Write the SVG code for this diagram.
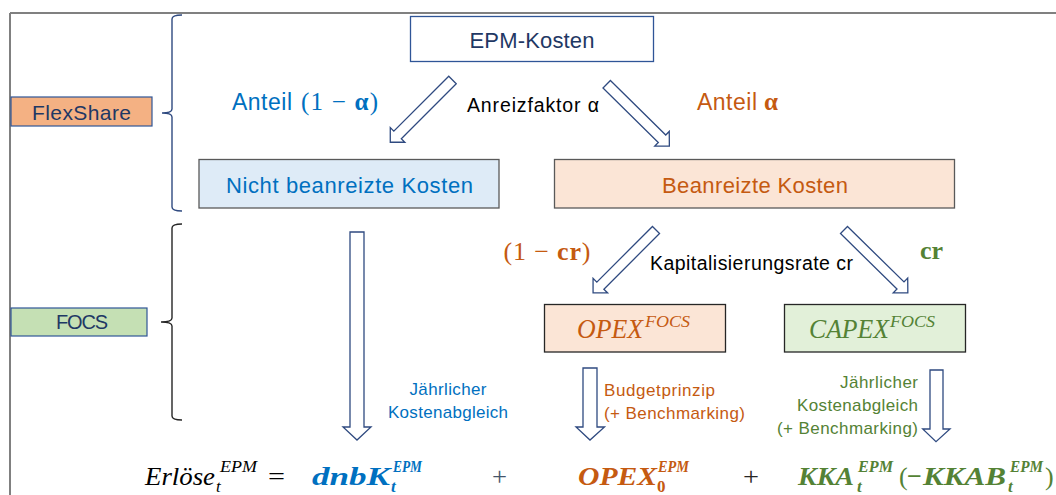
<svg xmlns="http://www.w3.org/2000/svg" width="1056" height="495" viewBox="0 0 1056 495">
<defs>
<style>
.sans{font-family:"Liberation Sans",Arial,sans-serif}
.ser{font-family:"Liberation Serif","DejaVu Serif",serif}
.it{font-style:italic}
.b{font-weight:bold}
.blue{fill:#0070C0}
.orange{fill:#C55A11}
.green{fill:#548235}
.navy{fill:#1F3864}
.arr{fill:#ffffff;stroke:#2F4A80;stroke-width:1.3;stroke-linejoin:miter}
.brace{fill:none;stroke-width:1.4}
</style>
</defs>
<rect width="1056" height="495" fill="#ffffff"/>
<g id="frame" fill="none" stroke="#808080" stroke-width="2">
<line x1="10" y1="13" x2="1056" y2="13"/>
<line x1="10" y1="13" x2="10" y2="495"/>
</g>
<g id="braces">
<path class="brace" stroke="#2F4A80" d="M182,15 Q172,15 172,19 L172,109 Q172,113 162,113 Q172,113 172,117 L172,207 Q172,211 182,211"/>
<path class="brace" stroke="#262626" d="M182,224 Q172,224 172,228 L172,318 Q172,322 161,322 Q172,322 172,326 L172,416 Q172,420 182,420"/>
</g>
<g id="flexshare">
<rect x="11" y="97" width="141" height="29" fill="#F4B183" stroke="#2F5597" stroke-width="1.2"/>
<text class="sans navy" x="81.5" y="120" font-size="21" text-anchor="middle" textLength="99">FlexShare</text>
</g>
<g id="focs">
<rect x="11" y="308" width="136" height="28" fill="#C5E0B4" stroke="#2F5597" stroke-width="1.2"/>
<text class="sans navy" x="82" y="329" font-size="20" text-anchor="middle" textLength="52">FOCS</text>
</g>
<g id="epm-kosten">
<rect x="410.5" y="16.5" width="243" height="45" fill="#ffffff" stroke="#2F5597" stroke-width="1.3"/>
<text class="sans navy" x="532" y="48" font-size="22" text-anchor="middle" textLength="125">EPM-Kosten</text>
</g>
<g id="nicht-beanreizt">
<rect x="199" y="159.5" width="300" height="48.5" fill="#DEEBF7" stroke="#595959" stroke-width="1.3"/>
<text class="sans blue" x="349.5" y="193" font-size="22" text-anchor="middle" textLength="247">Nicht beanreizte Kosten</text>
</g>
<g id="beanreizt">
<rect x="554.5" y="159.5" width="400" height="48.5" fill="#FBE5D6" stroke="#595959" stroke-width="1.3"/>
<text class="sans orange" x="755" y="193" font-size="22" text-anchor="middle" textLength="186">Beanreizte Kosten</text>
</g>
<g id="opex">
<rect x="544.5" y="304.5" width="181" height="47.5" fill="#FBE5D6" stroke="#262626" stroke-width="1.3"/>
<text class="ser it orange" x="577" y="338" font-size="27" textLength="66" lengthAdjust="spacingAndGlyphs">OPEX</text>
<text class="ser it orange" x="645" y="327" font-size="17" textLength="45" lengthAdjust="spacingAndGlyphs">FOCS</text>
</g>
<g id="capex">
<rect x="784.5" y="304.5" width="181" height="47.5" fill="#E2F0D9" stroke="#262626" stroke-width="1.3"/>
<text class="ser it green" x="809" y="338" font-size="27" textLength="80" lengthAdjust="spacingAndGlyphs">CAPEX</text>
<text class="ser it green" x="890" y="327" font-size="17" textLength="45" lengthAdjust="spacingAndGlyphs">FOCS</text>
</g>
<g id="connectors">
<polygon class="arr" points="0,-5.3 77.7,-5.3 77.7,-10.3 88,0 77.7,10.3 77.7,5.3 0,5.3" transform="translate(452.5,80) rotate(135)"/>
<polygon class="arr" points="0,-5.3 77.7,-5.3 77.7,-10.3 88,0 77.7,10.3 77.7,5.3 0,5.3" transform="translate(606.7,84.2) rotate(44.6)"/>
<polygon class="arr" points="0,-5 78.7,-5 78.7,-10.3 89,0 78.7,10.3 78.7,5 0,5" transform="translate(656,230) rotate(135)"/>
<polygon class="arr" points="0,-5 79.2,-5 79.2,-10.3 89.5,0 79.2,10.3 79.2,5 0,5" transform="translate(844,230) rotate(44.5)"/>
<polygon class="arr" points="350,232 364,232 364,427 371,427 357,440 343,427 350,427"/>
<polygon class="arr" points="583,368 597,368 597,427 604.5,427 590,440 576,427 583,427"/>
<polygon class="arr" points="930,370 943,370 943,429 950,429 936,441.7 922.7,429 930,429"/>
</g>
<g id="labels">
<text class="sans blue" x="232" y="110" font-size="23" textLength="60">Anteil</text>
<text class="ser blue" x="301" y="110" font-size="25" textLength="77">(1 − <tspan class="b">α</tspan>)</text>
<text class="sans" x="467" y="112" font-size="19.5" fill="#000" textLength="132">Anreizfaktor α</text>
<text class="sans orange" x="697" y="110" font-size="23" textLength="60">Anteil</text>
<text class="ser b orange" x="764" y="110" font-size="25">α</text>
<text class="ser orange" x="503.5" y="260" font-size="26" textLength="87">(1 − <tspan class="b">cr</tspan>)</text>
<text class="sans" x="650" y="270" font-size="19.5" fill="#000" textLength="203">Kapitalisierungsrate cr</text>
<text class="ser b green" x="920" y="259" font-size="26" textLength="23">cr</text>
<text class="sans blue" x="448" y="395" font-size="17" text-anchor="middle" textLength="77">Jährlicher</text>
<text class="sans blue" x="448" y="418" font-size="17" text-anchor="middle" textLength="120">Kostenabgleich</text>
<text class="sans orange" x="604" y="396" font-size="17" textLength="111">Budgetprinzip</text>
<text class="sans orange" x="604" y="419" font-size="17" textLength="141">(+ Benchmarking)</text>
<text class="sans green" x="918" y="388" font-size="17" text-anchor="end" textLength="78">Jährlicher</text>
<text class="sans green" x="918" y="411" font-size="17" text-anchor="end" textLength="121">Kostenabgleich</text>
<text class="sans green" x="918" y="434" font-size="17" text-anchor="end" textLength="141">(+ Benchmarking)</text>
</g>
<g id="formula">
<text class="ser it" x="145" y="485" font-size="26" fill="#000" textLength="70" lengthAdjust="spacingAndGlyphs">Erlöse</text>
<text class="ser it" x="216" y="492" font-size="17" fill="#000">t</text>
<text class="ser it" x="220" y="472" font-size="17" fill="#000" textLength="37" lengthAdjust="spacingAndGlyphs">EPM</text>
<text class="ser" x="268" y="485" font-size="26" fill="#000" textLength="17" lengthAdjust="spacingAndGlyphs">=</text>
<text class="ser it b blue" x="312" y="485" font-size="26" textLength="78" lengthAdjust="spacingAndGlyphs">dnbK</text>
<text class="ser it b blue" x="391" y="492" font-size="17">t</text>
<text class="ser it b blue" x="393" y="472" font-size="17" textLength="29" lengthAdjust="spacingAndGlyphs">EPM</text>
<text class="ser" x="492" y="485" font-size="26" fill="#44546A" textLength="15" lengthAdjust="spacingAndGlyphs">+</text>
<text class="ser it b orange" x="578" y="485" font-size="26" textLength="79" lengthAdjust="spacingAndGlyphs">OPEX</text>
<text class="ser b orange" x="657" y="492" font-size="17">0</text>
<text class="ser it b orange" x="658" y="472" font-size="17" textLength="31" lengthAdjust="spacingAndGlyphs">EPM</text>
<text class="ser" x="743" y="485" font-size="26" fill="#262626" textLength="16" lengthAdjust="spacingAndGlyphs">+</text>
<text class="ser it b green" x="798" y="485" font-size="26" textLength="56" lengthAdjust="spacingAndGlyphs">KKA</text>
<text class="ser it b green" x="857" y="492" font-size="17">t</text>
<text class="ser it b green" x="858" y="472" font-size="17" textLength="35" lengthAdjust="spacingAndGlyphs">EPM</text>
<text class="ser green" x="899" y="485" font-size="26">(</text>
<text class="ser b green" x="907" y="485" font-size="26" textLength="15" lengthAdjust="spacingAndGlyphs">−</text>
<text class="ser it b green" x="923" y="485" font-size="26" textLength="83" lengthAdjust="spacingAndGlyphs">KKAB</text>
<text class="ser it b green" x="1008" y="492" font-size="17">t</text>
<text class="ser it b green" x="1010" y="472" font-size="17" textLength="33" lengthAdjust="spacingAndGlyphs">EPM</text>
<text class="ser green" x="1045" y="485" font-size="26">)</text>
</g>
</svg>
